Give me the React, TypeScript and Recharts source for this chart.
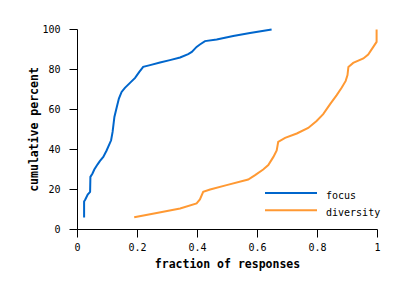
import { Legend, Line, LineChart, XAxis, YAxis } from "recharts";

const focusX = [
  0.022, 0.022, 0.026, 0.034, 0.042, 0.043, 0.05, 0.056, 0.067, 0.075, 0.086,
  0.097, 0.112, 0.117, 0.123, 0.131, 0.138, 0.147, 0.158, 0.175, 0.192, 0.206,
  0.219, 0.242, 0.275, 0.308, 0.342, 0.369, 0.381, 0.397, 0.408, 0.425, 0.464,
  0.519, 0.575, 0.647,
];
const focusY = [
  6, 14, 15, 17.5, 18.8, 26.3, 28, 30, 32.6, 34.3, 36.3, 39.5, 44.6, 48.8,
  56.3, 61.3, 65.5, 68.8, 70.8, 73.3, 75.8, 78.8, 81.3, 82.2, 83.5, 84.7, 86,
  87.7, 88.8, 91.3, 92.5, 94.2, 95, 96.8, 98.3, 100,
];

const diversityX = [
  0.189, 0.264, 0.342, 0.397, 0.408, 0.419, 0.442, 0.497, 0.569, 0.592, 0.619,
  0.636, 0.653, 0.664, 0.669, 0.692, 0.731, 0.769, 0.797, 0.819, 0.842, 0.864,
  0.881, 0.894, 0.9, 0.903, 0.919, 0.953, 0.969, 0.986, 0.997, 0.997,
];
const diversityY = [
  6.1, 8.3, 10.5, 13, 15, 18.8, 20, 22.2, 25, 27.2, 30, 32.2, 36.3, 39.5, 43.8,
  45.8, 48, 50.8, 54.3, 57.7, 62.7, 67.2, 71, 74.3, 77.2, 81.3, 83.3, 85.5,
  87.5, 91.3, 93.8, 100,
];

const seriesNames = ["focus", "diversity"];
const xTicks = [0, 0.2, 0.4, 0.6, 0.8, 1];
const yTicks = [0, 20, 40, 60, 80, 100];

const zip = (xs: number[], ys: number[]) => xs.map((x, i) => ({ x, y: ys[i] }));
const focusData = zip(focusX, focusY);
const diversityData = zip(diversityX, diversityY);

const FONT = "'DejaVu Sans Mono', monospace";
const tickStyle = { fontFamily: FONT, fontSize: 10, fill: "#000" };
const titleStyle = { fontFamily: FONT, fontSize: 11.5, fontWeight: "bold", fill: "#000" };

function LegendBox({ payload }: { payload?: any[] }) {
  // keep the series order, not the alphabetical one
  const items = [...(payload ?? [])].sort(
    (a, b) => seriesNames.indexOf(a.value) - seriesNames.indexOf(b.value)
  );
  return (
    <svg
      width={404}
      height={290}
      style={{ position: "absolute", left: 0, top: 0, pointerEvents: "none" }}
    >
      {items.map((entry, i) => (
        <g key={entry.value}>
          <line
            x1={265}
            x2={317}
            y1={193 + i * 17.3}
            y2={193 + i * 17.3}
            stroke={entry.color}
            strokeWidth={2}
          />
          <text
            x={326}
            y={198.5 + i * 17.3}
            fontFamily={FONT}
            fontSize={10}
            fill="#000"
          >
            {entry.value}
          </text>
        </g>
      ))}
    </svg>
  );
}

export default function App() {
  return (
    <div style={{ position: "absolute", left: 0, top: 0 }}>
      <LineChart
        width={404}
        height={290}
        margin={{ top: 29.5, right: 26.5, bottom: 0, left: 0 }}
      >
        <XAxis
          dataKey="x"
          type="number"
          domain={[0, 1]}
          ticks={xTicks}
          height={60.5}
          stroke="#000"
          tickSize={8}
          tickMargin={6}
          tick={tickStyle}
          label={{
            value: "fraction of responses",
            position: "insideBottom",
            offset: 22.5,
            style: titleStyle,
          }}
        />
        <YAxis
          type="number"
          domain={[0, 100]}
          ticks={yTicks}
          width={77.5}
          stroke="#000"
          tickSize={8}
          tickMargin={9}
          tick={tickStyle}
          label={{
            value: "cumulative percent",
            angle: -90,
            position: "insideLeft",
            offset: 33.5,
            style: { ...titleStyle, textAnchor: "middle" },
          }}
        />
        <Legend
          content={<LegendBox />}
          wrapperStyle={{ left: 0, top: 0, width: 0, height: 0 }}
        />
        <Line
          data={focusData}
          dataKey="y"
          name={seriesNames[0]}
          type="linear"
          stroke="#0066cc"
          strokeWidth={2}
          dot={false}
          isAnimationActive={false}
        />
        <Line
          data={diversityData}
          dataKey="y"
          name={seriesNames[1]}
          type="linear"
          stroke="#ff9933"
          strokeWidth={2}
          dot={false}
          isAnimationActive={false}
        />
      </LineChart>
    </div>
  );
}
